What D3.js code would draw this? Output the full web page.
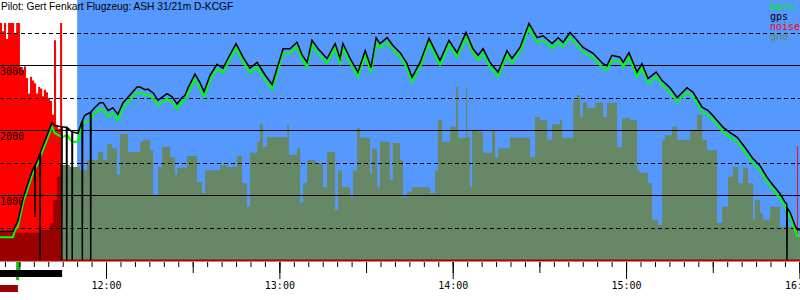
<!DOCTYPE html>
<html>
<head>
<meta charset="utf-8">
<script src="https://cdn.jsdelivr.net/npm/d3@7"></script>
<style>
  body { margin: 0; background: white; }
  svg { display: block; }
</style>
</head>
<body>
<div id="vizContainer"></div>
<script>
let w = 800;
let h = 300;

// all times are minutes after 11:00
let title = "Pilot: Gert Fenkart Flugzeug: ASH 31/21m D-KCGF";
let legendNames = ["baro", "gps", "noise", "gnd"];
let legendColors = ["#00ee00", "#000000", "#ff0000", "#668866"];

let viewStart = 23.3;
let viewEnd = 300.2;
let startLine = 50.0;
let engineRun = [23.3, 44.8];
let takeoffMark = 29.4;
let noiseMark = [23.3, 29.5];

let gridSolid = [1000, 2000, 3000];
let gridDashed = [500, 1500, 2500, 3500];

let altTimes = [23.3, 27.8, 28.5, 29.5, 31.3, 33.0, 34.7, 36.5, 37.8, 39.6, 41.3, 42.3, 44.8, 46.5, 48.2, 50.3,
  51.7, 52.7, 54.5, 56.2, 57.9, 59.0, 60.7, 62.4, 64.1, 65.9, 68.3, 70.7, 71.8, 73.5, 74.5, 76.3, 78.0,
  81.1, 82.9, 84.6, 86.3, 87.3, 88.4, 90.8, 92.5, 93.9, 96.0, 98.4, 100.5, 102.2, 105.0, 107.4, 109.8,
  112.3, 115.0, 117.5, 119.2, 121.3, 123.7, 126.1, 127.8, 129.6, 131.3, 133.4, 136.5, 139.3, 141.0,
  142.0, 144.5, 147.2, 149.7, 151.7, 153.5, 154.8, 157.3, 159.3, 161.8, 164.2, 165.9, 168.7, 171.8,
  173.9, 175.6, 178.7, 181.5, 184.6, 187.0, 188.8, 190.5, 192.9, 195.7, 198.8, 200.5, 203.3, 206.4,
  209.2, 211.3, 214.4, 216.5, 218.2, 220.6, 223.0, 225.1, 228.6, 232.0, 233.4, 235.1, 237.9, 239.0,
  241.0, 243.8, 245.5, 247.6, 250.4, 252.5, 255.2, 257.7, 261.1, 263.2, 266.3, 268.4, 270.1, 273.6,
  276.0, 278.4, 281.2, 283.9, 286.4, 288.8, 290.9, 293.3, 295.0, 296.8, 298.5, 299.2, 300.2];
let baroAlt = [350, 350, 460, 510, 880, 1110, 1340, 1490, 1650, 1850, 2050, 1950, 1890, 1920, 1820, 1820,
  2080, 2120, 2150, 2260, 2320, 2320, 2200, 2260, 2150, 2340, 2460, 2580, 2580, 2540, 2550, 2490, 2380,
  2480, 2430, 2320, 2430, 2460, 2580, 2780, 2650, 2510, 2770, 2940, 2880, 3030, 3260, 3050, 2880,
  2970, 2770, 2630, 2880, 3180, 3180, 3280, 3090, 2970, 3310, 3170, 3030, 3260, 3030,
  3260, 3030, 2820, 3150, 2890, 3350, 3260, 3350, 3230, 3120, 2950, 2740, 2970, 3340,
  3150, 3000, 3310, 3120, 3430, 3180, 3080, 3180, 2970, 2820, 3150, 3030, 3200, 3570,
  3350, 3380, 3260, 3350, 3280, 3430, 3310, 3200, 3110, 2950, 2920, 3080, 3050, 2970,
  3120, 2820, 2950, 2720, 2820, 2690, 2580, 2430, 2580, 2510, 2280, 2230, 2150, 1970,
  1890, 1820, 1660, 1490, 1380, 1200, 1080, 950, 820, 660, 460, 370, 370];

let gpsTimes = [23.3, 27.8, 28.5, 29.5, 31.3, 33.0, 34.7, 35.3, 35.4, 35.5, 36.5, 37.1, 37.2, 37.3, 37.8,
  39.6, 41.3, 42.3, 44.6, 44.7, 44.8, 46.3, 46.4, 46.5, 48.2, 48.3, 48.4, 50.3, 51.7, 51.8, 51.9, 52.7,
  54.6, 54.7, 54.8, 56.2, 57.9, 59.0, 60.7, 62.4, 64.1, 65.9, 68.3, 70.7, 71.8, 73.5, 74.5, 76.3, 78.0,
  81.1, 82.9, 84.6, 86.3, 87.3, 88.4, 90.8, 92.5, 93.9, 96.0, 98.4, 100.5, 102.2, 105.0, 107.4, 109.8,
  112.3, 115.0, 117.5, 119.2, 121.3, 123.7, 126.1, 127.8, 129.6, 131.3, 133.4, 136.5, 139.3, 141.0,
  142.0, 144.5, 147.2, 149.7, 151.7, 153.5, 154.8, 157.3, 159.3, 161.8, 164.2, 165.9, 168.7, 171.8,
  173.9, 175.6, 178.7, 181.5, 184.6, 187.0, 188.8, 190.5, 192.9, 195.7, 198.8, 200.5, 203.3, 206.4,
  209.2, 211.3, 214.4, 216.5, 218.2, 220.6, 223.0, 225.1, 228.6, 232.0, 233.4, 235.1, 237.9, 239.0,
  241.0, 243.8, 245.5, 247.6, 250.4, 252.5, 255.2, 257.7, 261.1, 263.2, 266.3, 268.4, 270.1, 273.6,
  276.0, 278.4, 281.2, 283.9, 286.4, 288.8, 290.9, 293.3, 295.0, 295.6, 295.7, 295.8, 296.8, 298.5,
  299.2, 300.2];
let gpsAlt = [440, 440, 520, 600, 950, 1180, 1400, 1450, 660, 1460, 1560, 1640, 0, 1660, 1720,
  1920, 2110, 2070, 2050, 0, 2050, 2040, 0, 2040, 1970, 0, 1970, 1950, 2140, 0, 2160, 2230,
  2270, 0, 2280, 2350, 2420, 2420, 2300, 2340, 2240, 2420, 2540, 2660, 2660, 2620, 2630, 2570, 2460,
  2560, 2510, 2400, 2500, 2530, 2650, 2860, 2730, 2590, 2840, 3010, 2950, 3100, 3330, 3120, 2950,
  3040, 2850, 2700, 2950, 3250, 3250, 3350, 3160, 3040, 3380, 3250, 3100, 3330, 3100,
  3330, 3100, 2890, 3220, 2960, 3420, 3330, 3420, 3300, 3190, 3020, 2810, 3040, 3410,
  3220, 3070, 3380, 3190, 3500, 3250, 3150, 3250, 3040, 2890, 3220, 3100, 3270, 3640,
  3420, 3450, 3330, 3420, 3350, 3500, 3380, 3270, 3180, 3020, 2990, 3150, 3120, 3040,
  3190, 2890, 3020, 2790, 2890, 2760, 2650, 2500, 2650, 2580, 2350, 2300, 2220, 2040,
  1960, 1890, 1730, 1560, 1450, 1270, 1150, 1020, 890, 860, 0, 800, 730, 530,
  470, 460];

let gndTimes = [23.3, 37.2, 40.6, 41.7, 43.0, 44.1, 44.8, 47.5, 51.0, 53.4, 57.2, 59.0, 60.4, 62.1, 63.8,
  64.8, 67.6, 71.8, 72.8, 75.2, 76.3, 78.0, 79.4, 82.2, 83.9, 84.6, 88.0, 91.5, 93.2, 94.3, 99.5, 101.9,
  105.3, 107.1, 108.8, 109.8, 112.3, 113.3, 114.3, 115.7, 122.7, 123.3, 126.1, 127.2, 128.2, 129.6,
  132.4, 135.1, 136.5, 139.3, 140.3, 141.7, 144.5, 145.5, 146.9, 147.9, 151.4, 152.1, 153.8, 154.8,
  158.3, 159.3, 161.8, 162.8, 164.2, 165.9, 172.2, 173.9, 174.9, 176.3, 179.1, 181.2, 181.9, 184.6,
  185.0, 186.0, 186.7, 188.8, 190.5, 193.6, 194.7, 195.7, 199.8, 200.9, 206.8, 208.5, 210.2, 212.7,
  214.4, 217.2, 217.9, 221.7, 223.0, 224.1, 225.1, 226.5, 229.3, 232.0, 233.4, 236.9, 238.6, 241.4,
  243.8, 244.8, 247.6, 249.0, 251.1, 252.5, 253.5, 255.9, 257.7, 262.2, 264.6, 266.3, 268.0, 271.5,
  273.2, 275.3, 277.0, 278.8, 280.5, 282.2, 284.0, 284.6, 286.4, 287.4, 289.8, 293.3, 299.2, 300.2];
let gndAlt = [420, 460, 570, 920, 1280, 1490, 1460, 1430, 1380, 1540, 1660, 1540, 1780, 1720, 1310,
  1940, 1660, 1820, 1850, 1690, 1000, 1430, 1740, 1580, 1310, 1420, 1600, 1200, 1030, 1380, 1460, 1430,
  1600, 1180, 820, 1650, 1820, 2090, 1740, 1890, 2080, 1620, 1720, 880, 1180, 1540,
  1490, 1120, 1660, 770, 1380, 1120, 970, 1380, 2030, 1880, 1340, 1710, 1120, 1820,
  1230, 1800, 1540, 970, 1050, 1120, 1030, 1380, 2150, 1820, 2050, 2660, 1880, 2660,
  1890, 1120, 2000, 1970, 1650, 2000, 1580, 1720, 1890, 1880, 1580, 2200, 2150, 1850,
  2090, 2150, 1880, 2460, 2540, 2200, 2430, 2340, 2420, 2200, 2420, 1740, 2180, 2150,
  1380, 1340, 1180, 620, 540, 1850, 1920, 2050, 1850, 2000, 2230, 1850, 1690, 570,
  820, 1280, 1430, 1180, 1420, 1180, 620, 920, 720, 620, 820, 510, 350, 350];

let noiseTimes = [23.3, 24.0, 24.7, 25.4, 26.1, 26.8, 27.5, 28.2, 28.9, 29.5, 30.2, 30.9, 31.6, 32.3,
  33.0, 33.7, 34.4, 35.1, 35.8, 36.5, 37.2, 37.9, 38.5, 39.2, 39.9, 40.6, 41.3, 42.0, 42.7, 43.4, 44.1,
  44.8, 235.8, 236.1, 295.4, 295.7, 298.2, 298.5, 299.2, 299.5, 300.2];
let noiseVal = [912, 880, 912, 850, 912, 912, 912, 870, 912, 912, 740, 730, 745, 700,
  640, 705, 690, 680, 640, 665, 660, 630, 655, 645, 622, 612, 560, 845, 520, 505, 912,
  0, 77, 0, 158, 0, 73, 0, 438, 0, 0];

let base = new Date(2021, 5, 12, 11, 0, 0);
let toDate = (m) => new Date(base.getTime() + m * 60000);

let plotBottom = 260;

let xScale = d3.scaleTime().domain([toDate(viewStart), toDate(viewEnd)]).range([0, w]);
let yScale = d3.scaleLinear().domain([0, 4000]).range([plotBottom, 0]);
let noiseScale = d3.scaleLinear().domain([0, 1000]).range([plotBottom, 0]);

let viz = d3.select("#vizContainer")
  .append("svg")
  .attr("width", w)
  .attr("height", h)
  .style("background-color", "white")
  ;

let defs = viz.append("defs");
defs.append("clipPath").attr("id", "clipEngine")
  .append("rect")
  .attr("x", 0).attr("y", 0)
  .attr("width", xScale(toDate(engineRun[1])))
  .attr("height", plotBottom);
defs.append("clipPath").attr("id", "clipFlight")
  .append("rect")
  .attr("x", xScale(toDate(engineRun[1]))).attr("y", 0)
  .attr("width", w - xScale(toDate(engineRun[1])))
  .attr("height", plotBottom);

// flight window background
viz.append("rect")
  .attr("x", xScale(toDate(startLine)))
  .attr("y", 0)
  .attr("width", w - xScale(toDate(startLine)))
  .attr("height", plotBottom)
  .attr("fill", "#5599ff")
  ;

// engine noise
let noiseData = noiseTimes.map((t, i) => ({ t: toDate(t), v: noiseVal[i] }));
let noiseArea = d3.area()
  .curve(d3.curveStepAfter)
  .x(d => xScale(d.t))
  .y0(plotBottom)
  .y1(d => noiseScale(d.v));
viz.append("path")
  .datum(noiseData)
  .attr("d", noiseArea)
  .attr("fill", "#ff0000")
  ;

// ground elevation
let gndData = gndTimes.map((t, i) => ({ t: toDate(t), v: gndAlt[i] }));
let gndArea = d3.area()
  .curve(d3.curveStepAfter)
  .x(d => xScale(d.t))
  .y0(plotBottom)
  .y1(d => yScale(d.v));
viz.append("path")
  .datum(gndData)
  .attr("d", gndArea)
  .attr("fill", "#990000")
  .attr("clip-path", "url(#clipEngine)")
  ;
viz.append("path")
  .datum(gndData)
  .attr("d", gndArea)
  .attr("fill", "#668866")
  .attr("clip-path", "url(#clipFlight)")
  ;

// grid
let gridGroup = viz.append("g").attr("class", "gridGroup");
gridGroup.selectAll(".solid").data(gridSolid).enter()
  .append("line")
  .attr("class", "solid")
  .attr("x1", 0).attr("x2", w)
  .attr("y1", d => Math.round(yScale(d)) + 0.5)
  .attr("y2", d => Math.round(yScale(d)) + 0.5)
  .attr("stroke", "black")
  .attr("stroke-width", 1)
  ;
gridGroup.selectAll(".dashed").data(gridDashed).enter()
  .append("line")
  .attr("class", "dashed")
  .attr("x1", 0).attr("x2", w)
  .attr("y1", d => Math.round(yScale(d)) + 0.5)
  .attr("y2", d => Math.round(yScale(d)) + 0.5)
  .attr("stroke", "black")
  .attr("stroke-width", 1)
  .attr("stroke-dasharray", "4,3")
  ;
gridGroup.selectAll(".ylabel").data(gridSolid).enter()
  .append("text")
  .attr("class", "ylabel")
  .attr("x", 0)
  .attr("y", d => yScale(d) + 10)
  .attr("font-family", "DejaVu Sans Mono, monospace")
  .attr("font-size", "10px")
  .attr("fill", "black")
  .text(d => d)
  ;

// noise zero line
viz.append("line")
  .attr("x1", 0).attr("x2", w)
  .attr("y1", noiseScale(0) + 0.5).attr("y2", noiseScale(0) + 0.5)
  .attr("stroke", "#aa0000")
  .attr("stroke-width", 2)
  ;

// altitude lines
let baroData = altTimes.map((t, i) => ({ t: toDate(t), v: baroAlt[i] }));
let gpsData = gpsTimes.map((t, i) => ({ t: toDate(t), v: gpsAlt[i] }));
let altLine = d3.line()
  .x(d => xScale(d.t))
  .y(d => yScale(d.v));
viz.append("path")
  .datum(baroData)
  .attr("d", altLine)
  .attr("fill", "none")
  .attr("stroke", "#00ff00")
  .attr("stroke-width", 2)
  ;
viz.append("path")
  .datum(gpsData)
  .attr("d", altLine)
  .attr("fill", "none")
  .attr("stroke", "black")
  .attr("stroke-width", 1.5)
  ;

// time axis: 5 min, 30 min and hour ticks
let axisY = plotBottom + 2;
let minorAxis = d3.axisBottom(xScale).ticks(d3.timeMinute.every(5)).tickSize(5).tickFormat("");
let halfAxis = d3.axisBottom(xScale).ticks(d3.timeMinute.every(30)).tickSize(11).tickFormat("");
let hourAxis = d3.axisBottom(xScale).ticks(d3.timeHour.every(1)).tickSize(17).tickFormat(d3.timeFormat("%H:%M"));
[minorAxis, halfAxis, hourAxis].forEach(a => {
  let g = viz.append("g")
    .attr("transform", "translate(0," + axisY + ")")
    .call(a);
  g.select(".domain").remove();
  g.selectAll("text")
    .attr("font-family", "DejaVu Sans Mono, monospace")
    .attr("font-size", "10px")
    .attr("fill", "black");
});

// markers under the axis
viz.append("rect")
  .attr("x", xScale(toDate(takeoffMark)) - 1.5)
  .attr("y", 262)
  .attr("width", 3)
  .attr("height", 18)
  .attr("fill", "#00cc00")
  ;
viz.append("rect")
  .attr("x", xScale(toDate(engineRun[0])))
  .attr("y", 270)
  .attr("width", xScale(toDate(engineRun[1])) - xScale(toDate(engineRun[0])))
  .attr("height", 7)
  .attr("fill", "black")
  ;
viz.append("rect")
  .attr("x", xScale(toDate(noiseMark[0])))
  .attr("y", 285)
  .attr("width", xScale(toDate(noiseMark[1])) - xScale(toDate(noiseMark[0])))
  .attr("height", 7)
  .attr("fill", "#990000")
  ;

// title
viz.append("text")
  .attr("x", 1)
  .attr("y", 10)
  .attr("font-family", "Liberation Sans, Arial, sans-serif")
  .attr("font-size", "10.2px")
  .attr("fill", "black")
  .text(title)
  ;

// legend
viz.selectAll(".legend").data(legendNames).enter()
  .append("text")
  .attr("class", "legend")
  .attr("x", 770)
  .attr("y", (d, i) => 10 + i * 10)
  .attr("font-family", "DejaVu Sans Mono, monospace")
  .attr("font-size", "10px")
  .attr("fill", (d, i) => legendColors[i])
  .text(d => d)
  ;
</script>
</body>
</html>
